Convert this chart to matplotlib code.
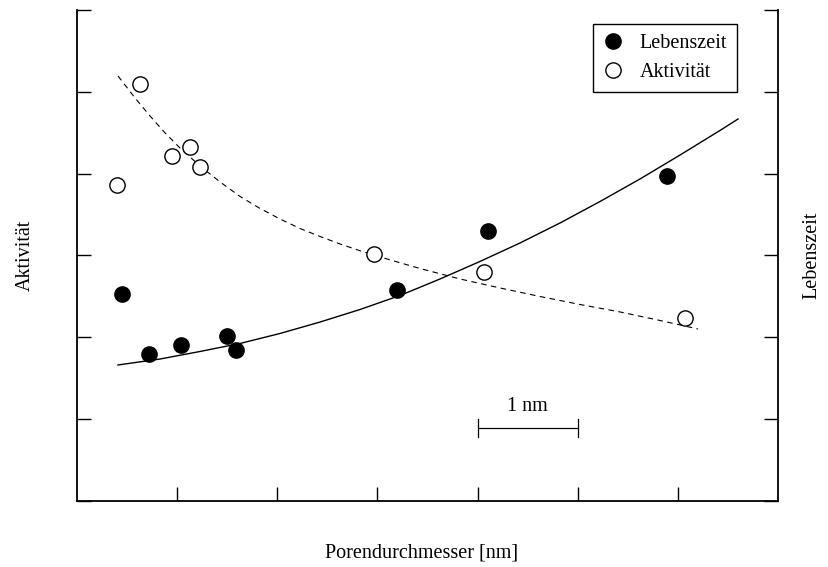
import matplotlib
matplotlib.use('Agg')
import matplotlib.pyplot as plt

plt.rcParams['font.family'] = ['Liberation Serif', 'DejaVu Serif']
plt.rcParams['font.size'] = 14.5

# Messpunkte (Porendurchmesser in nm, willkuerliche Achsen)
leben_x = [0.45, 0.72, 1.04, 1.50, 1.59, 3.20, 4.10, 5.89]
leben_y = [2.53, 1.80, 1.91, 2.02, 1.85, 2.58, 3.30, 3.97]
akt_x = [0.40, 0.63, 0.95, 1.13, 1.23, 2.97, 4.06, 6.07]
akt_y = [3.86, 5.10, 4.21, 4.32, 4.08, 3.02, 2.80, 2.24]

# Ausgleichskurven
fit_leben_x = [0.409, 0.829, 1.228, 1.628, 2.027, 2.427, 2.826, 3.225, 3.625,
               4.024, 4.424, 4.823, 5.223, 5.622, 6.022, 6.421, 6.601]
fit_leben_y = [1.662, 1.735, 1.827, 1.925, 2.047, 2.187, 2.340, 2.511, 2.713,
               2.927, 3.153, 3.397, 3.660, 3.935, 4.228, 4.528, 4.668]
fit_akt_x = [0.409, 0.579, 0.729, 0.879, 1.028, 1.228, 1.428, 1.628, 1.827,
             2.027, 2.227, 2.427, 2.626, 2.826, 3.026, 3.425, 3.825, 4.224,
             4.623, 5.023, 5.422, 5.822, 6.201]
fit_akt_y = [5.194, 4.925, 4.705, 4.498, 4.314, 4.094, 3.899, 3.721, 3.575,
             3.446, 3.330, 3.232, 3.141, 3.058, 2.982, 2.841, 2.713, 2.603,
             2.499, 2.401, 2.310, 2.206, 2.102]

fig = plt.figure(figsize=(8.29, 5.67), dpi=100)
ax = fig.add_axes([0.0929, 0.1164, 0.8456, 0.866])

ax.plot(fit_leben_x, fit_leben_y, color='black', lw=1.0)
ax.plot(fit_akt_x, fit_akt_y, color='black', lw=0.8, dashes=(5, 4))
ax.plot(leben_x, leben_y, 'o', color='black', markersize=11, label='Lebenszeit')
ax.plot(akt_x, akt_y, 'o', markerfacecolor='white', markeredgecolor='black',
        markeredgewidth=1.0, markersize=11, label='Aktivität')

# Massstab 1 nm
ax.plot([4, 5], [0.89, 0.89], color='black', lw=0.9)
ax.plot([4, 4], [0.78, 1.0], color='black', lw=0.9)
ax.plot([5, 5], [0.78, 1.0], color='black', lw=0.9)
ax.text(4.5, 1.16, '1 nm', ha='center', va='center')

ax.set_xlim(0, 7)
ax.set_ylim(0, 6)
ax.set_xticks([1, 2, 3, 4, 5, 6])
ax.set_yticks([0, 1, 2, 3, 4, 5, 6])
ax.tick_params(direction='in', length=10, width=1.0, right=True,
               labelleft=False, labelbottom=False)
ax.spines['top'].set_visible(False)
for s in ['left', 'right', 'bottom']:
    ax.spines[s].set_linewidth(1.3)

leg = ax.legend(loc='upper right', bbox_to_anchor=(0.9415, 0.9715),
                borderaxespad=0, fancybox=False, edgecolor='black',
                framealpha=1, handlelength=1.0, handletextpad=0.8,
                borderpad=0.5, labelspacing=0.5)
leg.get_frame().set_linewidth(1.0)

fig.text(0.031, 0.55, 'Aktivität', rotation=90, ha='center', va='center')
fig.text(0.979, 0.55, 'Lebenszeit', rotation=90, ha='center', va='center')
fig.text(0.509, 0.024, 'Porendurchmesser [nm]', ha='center', va='center')

fig.savefig('out.png', dpi=100)
